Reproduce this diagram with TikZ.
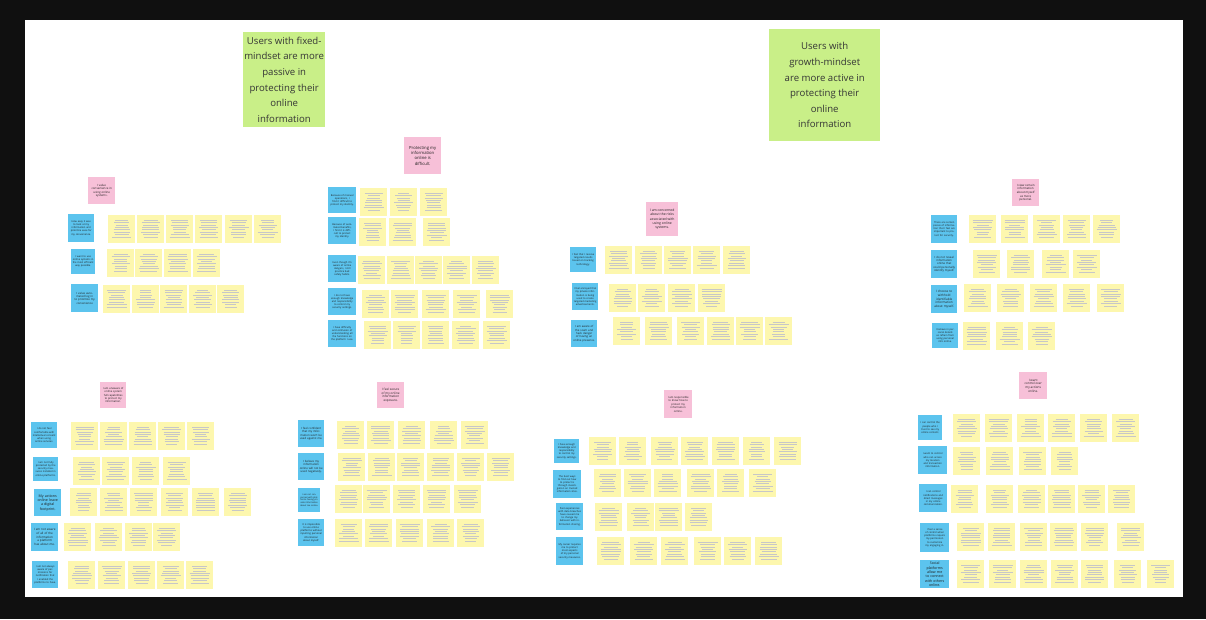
\documentclass[tikz,border=0pt]{standalone}
\usepackage{fontspec}
\setmainfont{Open Sans}
\usetikzlibrary{calc}
\definecolor{mbframe}{HTML}{101010}
\definecolor{mbink}{HTML}{1E1E1E}
\definecolor{mbgreen}{HTML}{C9EF88}
\definecolor{mbpink}{HTML}{F7C0D8}
\definecolor{mbblue}{HTML}{5CC4EE}
\definecolor{mbyel}{HTML}{FDF7AE}
\tikzset{
  note/.style={anchor=north west,inner sep=0.5pt,align=center,text=mbink},
  hdr/.style={note,fill=mbgreen,font=\fontsize{9.6}{15.6}\selectfont,text=mbink!90},
  pnote/.style={note,fill=mbpink,minimum width=27pt,minimum height=27pt,
                font=\fontsize{2.9}{3.6}\selectfont},
  bnote/.style={note,fill=mbblue,minimum width=26pt,minimum height=27pt,text width=23pt,
                font=\fontsize{2.5}{3.1}\selectfont},
  scrib/.style={line width=0.5pt,draw=black!22},
  ynote/.style={note,fill=mbyel,minimum width=27pt,minimum height=28pt,inner sep=0pt,
                path picture={
                  \foreach \k in {1,...,8}{
                    \pgfmathsetmacro\w{11+random(0,9)}
                    \draw[scrib] ([xshift=-\w*0.5pt,yshift=-2.5pt-\k*2.4pt]path picture bounding box.north)
                      -- ++(\w pt,0pt);}}},
}

\begin{document}
\begin{tikzpicture}[x=1pt,y=-1pt]
  \pgfmathsetseed{42}
  % row of yellow notes: prefix, top, left edges
  \def\yrow#1#2#3{\foreach \x [count=\i] in {#3}{\node[ynote] (#1\i) at (\x,#2) {};}}

  % ---- board ----
  \fill[mbframe] (0,0) rectangle (1206,619);
  \fill[white] (25,20) rectangle (1183,597);

  % ---- themes ----
  \node[hdr,minimum width=82pt,minimum height=95pt] (fixed) at (243,32)
    {Users with fixed-\\mindset are more\\passive in\\protecting their\\online\\information};
  \node[hdr,minimum width=111pt,minimum height=112pt] (growth) at (769,29)
    {Users with\\growth-mindset\\are more active in\\protecting their\\online\\information};

  % ---- convenience ----
  \node[pnote] (conv) at (88,177) {I value\\convenience in\\using online\\systems.};
  \node[bnote,minimum height=28pt] (conv1) at (68,214) {How easy it was to look at my information and prioritize ease for my convenience.};
  \node[bnote,minimum width=24pt,minimum height=25pt] (conv2) at (71,249) {I want to use online systems in the most efficient way possible.};
  \node[bnote,minimum width=27pt,minimum height=28pt,font=\fontsize{2.8}{3.4}\selectfont] (conv3) at (71,284) {I value automated log in to prioritize my convenience};
  \yrow{cva}{215}{108,137,166,195,225,254}
  \yrow{cvb}{249}{107,135,164,193}
  \yrow{cvc}{285}{103,132,160,189,217}

  % ---- difficult ----
  \node[pnote,minimum width=37pt,minimum height=37pt,font=\fontsize{4.2}{5.2}\selectfont] (diff) at (404,137)
    {Protecting my\\information\\online is\\difficult.};
  \node[bnote,minimum width=28pt,minimum height=26pt] (diff1) at (328,187) {Because of manual operations, I find it difficult to protect my identity.};
  \node[bnote,minimum width=28pt] (diff2) at (328,217) {Because of automated benefits, I find it is difficult to protect my identity.};
  \node[bnote,minimum width=28pt] (diff3) at (328,255) {Even though I'm aware of online dangers, I still practice bad safety habits.};
  \node[bnote,minimum width=28pt] (diff4) at (328,288) {I do not have enough knowledge and responsibility to control my security settings.};
  \node[bnote,minimum width=28pt] (diff5) at (328,320) {I have difficulty and confusion of understanding all the functions on the platform I use.};
  \yrow{dfa}{188}{360,390,420}
  \yrow{dfb}{218}{359,389,423}
  \yrow{dfc}{256}{358,387,415,443,472}
  \yrow{dfd}{290}{362,391,422,453,486}
  \yrow{dfe}{321}{364,393,422,452,483}

  % ---- risks ----
  \node[pnote,minimum width=32pt,minimum height=34pt,font=\fontsize{3.4}{4.2}\selectfont] (risk) at (646,202)
    {I am concerned\\about the risks\\associated with\\using online\\systems.};
  \node[bnote,minimum height=25pt] (risk1) at (570,247) {I feel that I receive targeted results based on tracking technology.};
  \node[bnote] (risk2) at (572,283) {I feel annoyed that my private information is being used to create targeted marketing advertisements.};
  \node[bnote,font=\fontsize{2.8}{3.4}\selectfont] (risk3) at (571,320) {I am aware of the scam and hack danger of having an online presence.};
  \yrow{rka}{246}{605,635,664,693,723}
  \yrow{rkb}{284}{609,638,668,698}
  \yrow{rkc}{317}{613,645,677,707,736,765}

  % ---- personal ----
  \node[pnote] (pers) at (1012,179) {I view certain\\information\\about myself\\as more\\personal.};
  \node[bnote,minimum height=28pt] (pers1) at (931,215) {There are certain pieces of information that I feel are important to protect for security.};
  \node[bnote,minimum height=28pt,font=\fontsize{2.8}{3.4}\selectfont] (pers2) at (931,250) {I do not reveal information online that could personally identify myself.};
  \node[bnote,minimum height=28pt,font=\fontsize{3.1}{3.8}\selectfont] (pers3) at (931,285) {I choose to withhold identifiable information about myself.};
  \node[bnote,minimum height=25pt] (pers4) at (932,323) {I believe in personal details as refrain from using personal info online.};
  \yrow{psa}{215}{969,1001,1033,1063,1093}
  \yrow{psb}{250}{973,1007,1042,1073}
  \yrow{psc}{284}{964,997,1030,1063,1097}
  \yrow{psd}{322}{963,996,1028}

  % ---- unaware ----
  \node[pnote,minimum width=26pt,minimum height=26pt,font=\fontsize{2.7}{3.3}\selectfont] (unaw) at (100,382)
    {I am unaware of\\online system\\full capabilities\\to protect my\\information.};
  \node[bnote,minimum height=26pt] (unaw1) at (31,422) {I do not feel comfortable with intellectual consent when using online services.};
  \node[bnote,minimum width=25pt,minimum height=24pt] (unaw2) at (33,457) {I am not fully protected by the security measures installed in online platforms.};
  \node[bnote,minimum width=27pt,font=\fontsize{3.6}{4.3}\selectfont] (unaw3) at (34,489) {My actions online leave a digital footprint.};
  \node[bnote,minimum width=27pt,minimum height=28pt,font=\fontsize{3}{3.7}\selectfont] (unaw4) at (31,523) {I am not aware of all of the information a platform has about me.};
  \node[bnote] (unaw5) at (32,561) {I am not always aware of permissions for notification that I enabled the platforms to have.};
  \yrow{uwa}{422}{71,100,129,158,187}
  \yrow{uwb}{457}{73,102,132,163}
  \yrow{uwc}{488}{70,100,130,161,192,224}
  \yrow{uwd}{523}{64,95,125,153}
  \yrow{uwe}{561}{68,98,128,157,186}

  % ---- secure ----
  \node[pnote,minimum height=26pt,font=\fontsize{3.1}{3.8}\selectfont] (secu) at (377,382)
    {I feel secure\\of my online\\information\\exposure.};
  \node[bnote,font=\fontsize{2.8}{3.4}\selectfont] (secu1) at (298,420) {I feel confident that my information won't be used against me.};
  \node[bnote,font=\fontsize{2.8}{3.4}\selectfont] (secu2) at (298,453) {I believe my information online will not be used negatively.};
  \node[bnote,minimum width=22pt,minimum height=24pt,text width=20pt,font=\fontsize{2.2}{2.8}\selectfont] (secu3) at (298,488) {I am not concerned with platforms having private information about me online.};
  \node[bnote] (secu4) at (298,519) {It is impossible to use online platforms without inputting personal information about myself.};
  \yrow{sca}{421}{337,367,398,430,461}
  \yrow{scb}{453}{338,368,397,427,457,487}
  \yrow{scc}{485}{335,363,393,423,454}
  \yrow{scd}{519}{335,365,396,427,457}

  % ---- responsible ----
  \node[pnote,minimum width=28pt,minimum height=28pt,font=\fontsize{2.7}{3.4}\selectfont] (resp) at (664,390)
    {I am responsible\\to know how to\\protect my\\information\\online.};
  \node[bnote,minimum width=25pt,minimum height=24pt] (resp1) at (554,439) {I have enough knowledge and responsibility to control my security settings.};
  \node[bnote,minimum width=28pt,minimum height=28pt] (resp2) at (553,470) {The best ways to find out how to protect is through investigation on trusted information sites.};
  \node[bnote,minimum width=27pt] (resp3) at (556,503) {Past experiences with data breaches have caused me to change my behavior with information sharing.};
  \node[bnote,minimum width=27pt,minimum height=28pt] (resp4) at (556,537) {My career requires me to protect most aspects of my personal security measures.};
  \yrow{rsa}{437}{589,619,651,681,712,743,774}
  \yrow{rsb}{469}{594,624,654,687,717,749}
  \yrow{rsc}{503}{595,627,655,685}
  \yrow{rsd}{537}{597,630,661,694,724,755}

  % ---- control ----
  \node[pnote,minimum width=28pt,font=\fontsize{3.1}{3.8}\selectfont] (ctrl) at (1019,372)
    {I want\\control over\\my actions\\online.};
  \node[bnote,minimum width=24pt,minimum height=25pt] (ctrl1) at (918,415) {I can control the people who I trust to see my online content.};
  \node[bnote,minimum width=29pt,minimum height=28pt] (ctrl2) at (918,446) {I want to control who can access my location and transaction information.};
  \node[bnote,minimum width=28pt,minimum height=28pt] (ctrl3) at (919,484) {I can control notifications and direct messages in my online communication.};
  \node[bnote,minimum width=29pt,minimum height=29pt] (ctrl4) at (920,523) {I feel a sense of control when platforms require my permission to customize my engaging in.};
  \node[bnote,minimum width=29pt,minimum height=28pt,font=\fontsize{3.6}{4.3}\selectfont] (ctrl5) at (920,560) {Social platforms allow me to connect with others online.};
  \yrow{cta}{414}{953,985,1017,1048,1080,1112}
  \yrow{ctb}{447}{953,986,1019,1051}
  \yrow{ctc}{485}{951,986,1018,1048,1078,1108}
  \yrow{ctd}{523}{957,988,1020,1050,1081,1117}
  \yrow{cte}{560}{957,989,1020,1051,1081,1114,1147}
\end{tikzpicture}
\end{document}
